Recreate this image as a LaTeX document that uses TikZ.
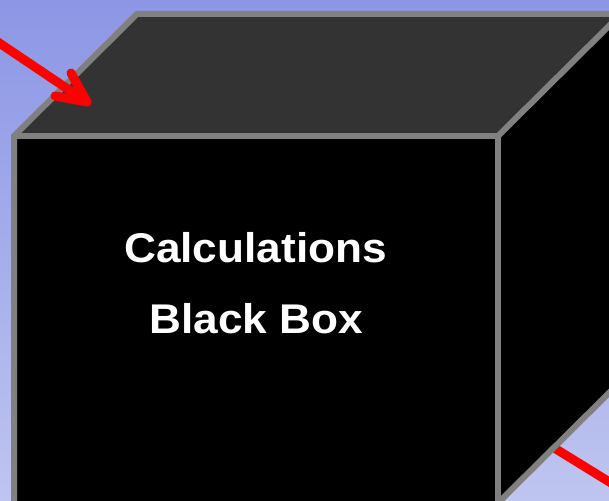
\documentclass[tikz,border=0pt]{standalone}
\usepackage{fontspec}
\setmainfont{Liberation Sans}
\definecolor{bgtop}{RGB}{140,150,229}
\definecolor{bgbot}{RGB}{190,197,240}
\definecolor{edgegray}{RGB}{128,128,128}
\definecolor{topgray}{RGB}{51,51,51}
\begin{document}
\begin{tikzpicture}[x=1pt,y=-1pt,
  edge/.style={draw=edgegray,line width=6pt,line join=miter},
  redline/.style={draw=red,line width=9pt,line cap=round,line join=round},
  label/.style={text=white,font=\fontsize{41.5}{48}\selectfont\bfseries,anchor=base,inner sep=0pt,xscale=1.065}]
\useasboundingbox (0,0) rectangle (609,500);
\clip (0,0) rectangle (609,500);
\shade[top color=bgtop,bottom color=bgbot] (0,0) rectangle (609,500);
% coordinates of the box
\coordinate (fa) at (14,136);
\coordinate (fb) at (498,136);
\coordinate (fc) at (498,503);
\coordinate (fd) at (14,503);
\coordinate (ba) at (137,14);
\coordinate (bb) at (621,14);
\coordinate (bc) at (621,381);
% red line leaving behind the box
\coordinate (r2s) at (530,433);
\coordinate (r2e) at (650,507);
\draw[redline] (r2s) -- (r2e);
% box faces
\fill[topgray] (fa) -- (ba) -- (bb) -- (fb) -- cycle;
\fill[black] (fb) -- (bb) -- (bc) -- (fc) -- cycle;
\fill[black] (fa) rectangle (fc);
\draw[edge] (fd) -- (fa) -- (ba) -- (bb);
\draw[edge] (fa) -- (fb) -- (fc);
\draw[edge] (fb) -- (bb);
\draw[edge] (fc) -- (bc);
% red arrow entering the box
\coordinate (r1s) at (-20,30);
\coordinate (r1t) at (87,102);
\coordinate (r1a) at (71,73);
\coordinate (r1b) at (55,96);
\draw[redline] (r1s) -- (r1t);
\draw[redline] (r1a) -- (r1t) -- (r1b);
% text
\node[label] (t1) at (255.5,262) {Calculations};
\node[label] (t2) at (256.5,333) {Black Box};
\end{tikzpicture}
\end{document}
